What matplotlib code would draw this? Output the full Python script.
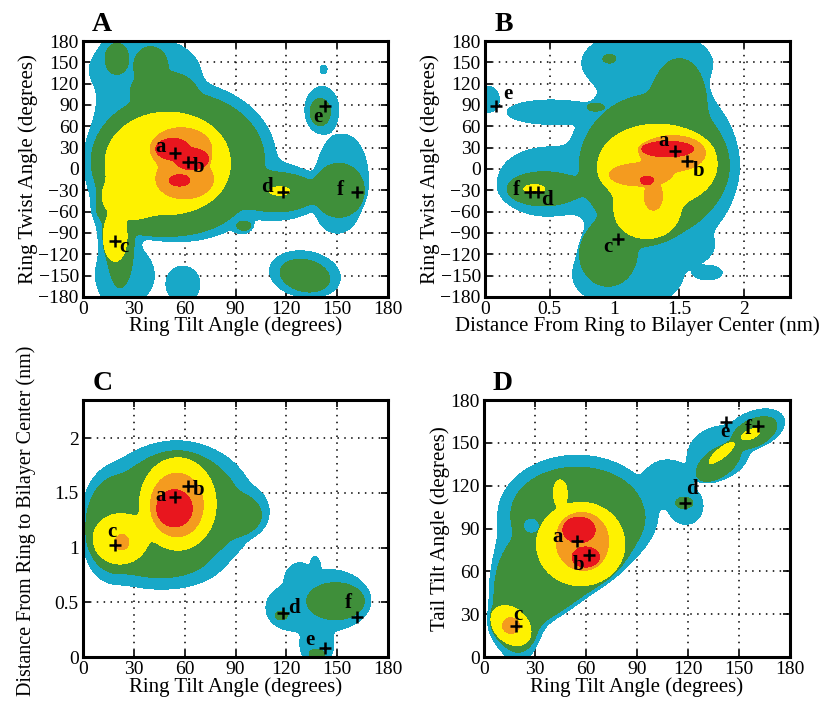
import numpy as np
import matplotlib
matplotlib.use("Agg")
import matplotlib.pyplot as plt

plt.rcParams['font.family'] = ['Liberation Serif', 'DejaVu Serif']

# ---------------- colours for the density levels (low -> high) -------------
level_colors = ['#18a8c8', '#3f8f3a', '#fef200', '#f49b1f', '#e8161e']

# ---------------- region shapes: (cx, cy, rx, ry, angle) per level ----------
# Panel A : Ring tilt (x) vs ring twist (y)
A_cyan = [(21, 0, 13, 230, 0), (36, 140, 32, 45, 0), (58, 10, 52, 105, 0),
          (115, -33, 26, 38, 0), (153, -8, 15, 57, 0), (150, -58, 12, 32, 0),
          (141, 83, 10, 33, 0), (142, 140, 2, 6, 0), (131, -148, 21, 32, -15),
          (59, -162, 10, 25, 0), (94, -78, 6, 12, 0), (25, -150, 17, 40, 0)]
A_green = [(57, 12, 50, 95, 0), (47, 112, 18, 25, 0), (20, 155, 7, 22, 0),
           (40, 145, 10, 27, 0), (22, -105, 8, 62, 0), (45, -60, 35, 32, 0),
           (115, -33, 23, 27, 0), (151, -30, 15, 38, 0), (140, 80, 6, 19, 0),
           (131, -150, 15, 22, -20), (95, -80, 4, 6, 0)]
A_yellow = [(50, 8, 37, 72, 0), (28, -40, 16, 30, 0), (19, -95, 7, 35, 0),
            (116, -31, 6, 6, 0)]
A_orange = [(58, 28, 18, 30, 0), (60, -14, 17, 28, 0)]
A_red = [(53, 28, 10, 15, 0), (64, 14, 10, 15, 0), (57, -16, 6, 8, 0)]

# Panel B : distance (x) vs ring twist (y)
B_cyan = [(1.3, 5, 0.62, 125, 0), (1.25, 150, 0.5, 45, 0), (1.1, -150, 0.42, 45, 0),
          (1.45, -110, 0.3, 30, 0), (0.47, -18, 0.37, 48, 0), (0.5, 80, 0.33, 17, 0),
          (0.03, 98, 0.08, 18, 0), (1.72, -146, 0.11, 10, 0)]
B_green = [(1.3, 5, 0.56, 100, 0), (1.5, 100, 0.2, 55, 0), (0.95, -120, 0.22, 45, 0),
           (1.15, -85, 0.25, 22, 0), (0.45, -28, 0.28, 24, 0), (0.96, 155, 0.05, 6, 0),
           (0.85, 87, 0.06, 5, 0)]
B_yellow = [(1.33, 5, 0.46, 58, 0), (1.25, -60, 0.25, 38, 0), (0.38, -28, 0.08, 6, 0)]
B_orange = [(1.45, 22, 0.25, 25, 0), (1.2, -8, 0.24, 16, 0), (1.3, -38, 0.07, 20, 0)]
B_red = [(1.41, 28, 0.2, 11, 0), (1.25, -16, 0.05, 6, 0)]

# Panel C : ring tilt (x) vs distance (y)
C_cyan = [(55, 1.35, 45, 0.6, 0), (17, 1.2, 17, 0.48, 0), (97, 1.33, 12, 0.2, 0),
          (45, 0.85, 32, 0.22, 0), (145, 0.52, 24, 0.28, 0), (122, 0.45, 14, 0.2, 0),
          (130, 0.45, 12, 0.2, 0), (128, 0.7, 9, 0.16, 0), (137, 0.82, 3, 0.1, 0),
          (138, 0.12, 10, 0.2, 0)]
C_green = [(55, 1.35, 38, 0.5, 0), (19, 1.2, 17, 0.42, 0), (90, 1.3, 15, 0.18, 0),
           (45, 0.9, 25, 0.17, 0), (149, 0.51, 17, 0.17, 0), (117, 0.38, 3.5, 0.04, 0),
           (138, 0.03, 4.5, 0.04, 0)]
C_yellow = [(56, 1.4, 22.5, 0.42, 0), (22, 1.08, 16, 0.23, 0)]
C_orange = [(55.5, 1.39, 15.5, 0.29, 0), (23, 1.05, 4, 0.07, 0)]
C_red = [(54, 1.36, 10.5, 0.17, 0)]

# Panel D : ring tilt (x) vs tail tilt (y)
D_cyan = [(55, 100, 44, 40, 0), (20, 45, 16, 46, 0), (50, 58.5, 55, 18, 45),
          (108, 122, 14, 16, 0), (119, 106, 10, 13, 0), (138, 143, 20, 17, 50),
          (160, 160, 18, 12, 30)]
D_green = [(55, 100, 39, 33, 0), (20, 42, 14, 38, 0), (50, 55, 48, 14, 45),
           (138, 136, 16, 9, 45), (159, 157, 15, 9, 35), (118, 108, 5, 4, 0)]
D_hole = [(28, 92, 4, 4.5, 0)]
D_yellow = [(57, 79, 26, 29, 0), (45, 115, 4, 9, 0), (16, 22, 10.5, 15, 30),
            (140, 143, 10, 3, 45), (157, 156, 6, 3, 30)]
D_orange = [(58, 81, 15.5, 20, 0), (16, 22, 5, 5.5, 0)]
D_red = [(56, 89, 9.5, 9, 0), (60, 70, 8, 7, 0)]

# ---------------- labelled states a-f --------------------------------------
state_names = ['a', 'b', 'c', 'd', 'e', 'f']
A_pts_x = [54.3, 62.2, 18.9, 118.3, 142.9, 161.5]
A_pts_y = [23, 10, -101, -33, 89, -33]
A_lab_x = [46, 68, 24, 108.4, 138.5, 151.7]
A_lab_y = [31, 3, -110, -25, 73, -29.6]

B_pts_x = [1.467, 1.557, 1.03, 0.41, 0.085, 0.347]
B_pts_y = [25, 11, -99, -32, 89, -32]
B_lab_x = [1.377, 1.647, 0.952, 0.476, 0.18, 0.24]
B_lab_y = [39, -3, -110, -43, 106, -30]

C_pts_x = [54.3, 61.7, 18.9, 118.2, 142.9, 161.6]
C_pts_y = [1.464, 1.56, 1.023, 0.40, 0.08, 0.37]
C_lab_x = [46, 68.1, 17.3, 124.2, 134, 156.6]
C_lab_y = [1.47, 1.525, 1.14, 0.445, 0.155, 0.49]

D_pts_x = [55.1, 62, 19.2, 118.2, 142.7, 161.4]
D_pts_y = [81.5, 71.4, 21.7, 107.6, 164.8, 162]
D_lab_x = [43.7, 55.5, 20.2, 122.7, 141.8, 155.5]
D_lab_y = [84.2, 64.4, 29.4, 117.4, 157.8, 159.7]

angle_ticks = [0, 30, 60, 90, 120, 150, 180]
twist_ticks = [-180, -150, -120, -90, -60, -30, 0, 30, 60, 90, 120, 150, 180]
dist_ticks = [0, 0.5, 1, 1.5, 2]
dist_tick_labels = ['0', '0.5', '1', '1.5', '2']

SHARP = 3.0


def metaball(blobs, X, Y, xspan, yspan):
    S = np.zeros_like(X)
    for cx, cy, rx, ry, ang in blobs:
        du = (X - cx) / xspan
        dv = (Y - cy) / yspan
        a = np.radians(ang)
        p = du * np.cos(a) + dv * np.sin(a)
        q = -du * np.sin(a) + dv * np.cos(a)
        r2 = (p / (rx / xspan)) ** 2 + (q / (ry / yspan)) ** 2
        S += np.exp(SHARP * (1.0 - r2))
    return S


def draw_panel(ax, levels, xlim, ylim, holes=None):
    xs = np.linspace(xlim[0], xlim[1], 500)
    ys = np.linspace(ylim[0], ylim[1], 500)
    X, Y = np.meshgrid(xs, ys)
    xspan = xlim[1] - xlim[0]
    yspan = ylim[1] - ylim[0]
    for i in range(len(levels)):
        blobs = []
        for lv in levels[i:]:
            blobs += lv
        S = metaball(blobs, X, Y, xspan, yspan)
        ax.contourf(X, Y, S, levels=[1.0, 1e12], colors=[level_colors[i]], zorder=1 + i * 0.01)
        if i == 1 and holes:
            H = metaball(holes, X, Y, xspan, yspan)
            ax.contourf(X, Y, H, levels=[1.0, 1e12], colors=[level_colors[0]], zorder=1.015)
    ax.set_xlim(*xlim)
    ax.set_ylim(*ylim)


def style(ax):
    ax.set_axisbelow(True)
    ax.grid(True, linestyle=(0, (1, 3.5)), color='k', linewidth=1.1)
    for s in ax.spines.values():
        s.set_linewidth(2.2)
        s.set_zorder(5)
    ax.tick_params(direction='in', top=True, right=True, length=5, width=1.2,
                   labelsize=14, pad=3)


def mark(ax, px, py, lx, ly):
    ax.plot(px, py, linestyle='none', marker='+', color='k', ms=8, mew=1.8, zorder=6)
    for n, x, y in zip(state_names, lx, ly):
        ax.text(x, y, n, fontsize=15, fontweight='bold', ha='center', va='center', zorder=7)


fig = plt.figure(figsize=(8.2, 7.07), dpi=100)
axA = fig.add_axes([0.1012, 0.580, 0.372, 0.362])
axB = fig.add_axes([0.5915, 0.580, 0.372, 0.362])
axC = fig.add_axes([0.1012, 0.0707, 0.372, 0.3635])
axD = fig.add_axes([0.590, 0.0707, 0.373, 0.3635])

draw_panel(axA, [A_cyan, A_green, A_yellow, A_orange, A_red], (0, 180), (-180, 180))
draw_panel(axB, [B_cyan, B_green, B_yellow, B_orange, B_red], (0, 2.355), (-180, 180))
draw_panel(axC, [C_cyan, C_green, C_yellow, C_orange, C_red], (0, 180), (0, 2.35))
draw_panel(axD, [D_cyan, D_green, D_yellow, D_orange, D_red], (0, 180), (0, 180),
           holes=D_hole)

for ax in (axA, axB, axC, axD):
    style(ax)

axA.set_xticks(angle_ticks)
axA.set_yticks(twist_ticks)
axB.set_xticks(dist_ticks)
axB.set_xticklabels(dist_tick_labels)
axB.set_yticks(twist_ticks)
axC.set_xticks(angle_ticks)
axC.set_yticks(dist_ticks)
axC.set_yticklabels(dist_tick_labels)
axD.set_xticks(angle_ticks)
axD.set_yticks(angle_ticks)

lab = dict(fontsize=15)
axA.set_xlabel('Ring Tilt Angle (degrees)', labelpad=-1, **lab)
axA.set_ylabel('Ring Twist Angle (degrees)', labelpad=0, **lab)
axB.set_xlabel('Distance From Ring to Bilayer Center (nm)', labelpad=-1, **lab)
axB.set_ylabel('Ring Twist Angle (degrees)', labelpad=0, **lab)
axC.set_xlabel('Ring Tilt Angle (degrees)', labelpad=-1, **lab)
axC.set_ylabel('Distance From Ring to Bilayer Center (nm)', fontsize=14.5)
axC.yaxis.set_label_coords(-0.155, 0.53)
axD.set_xlabel('Ring Tilt Angle (degrees)', labelpad=-1, **lab)
axD.set_ylabel('Tail Tilt Angle (degrees)', labelpad=0, **lab)

mark(axA, A_pts_x, A_pts_y, A_lab_x, A_lab_y)
mark(axB, B_pts_x, B_pts_y, B_lab_x, B_lab_y)
mark(axC, C_pts_x, C_pts_y, C_lab_x, C_lab_y)
mark(axD, D_pts_x, D_pts_y, D_lab_x, D_lab_y)

for ax, letter in zip((axA, axB, axC, axD), 'ABCD'):
    ax.text(0.03, 1.015, letter, transform=ax.transAxes, fontsize=20,
            fontweight='bold', ha='left', va='bottom')

fig.savefig('out.png', dpi=100)
